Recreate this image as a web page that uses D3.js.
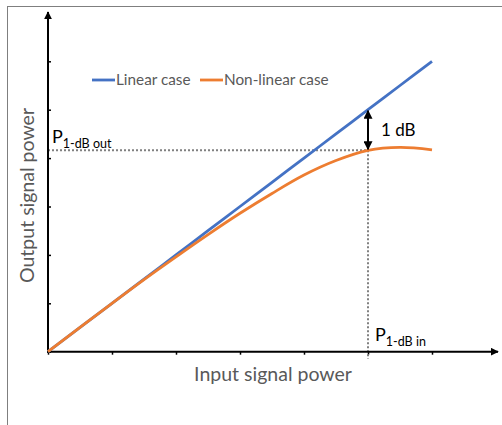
<!DOCTYPE html>
<html>
<head>
<meta charset="utf-8">
<script src="https://cdn.jsdelivr.net/npm/d3@7"></script>
<style>
  html, body { margin: 0; padding: 0; background: #fff; }
  svg { display: block; }
  text { font-family: "Lato", "Liberation Sans", Arial, sans-serif; }
</style>
</head>
<body>
<svg id="chart" width="502" height="425"></svg>
<script>
// Input power levels (arbitrary units)
const inputPower = [0, 1, 1.5, 2, 2.5, 3, 3.5, 4, 4.5, 5, 5.5, 6];
// Ideal amplifier: output follows input
const linearOutput = [0, 1, 1.5, 2, 2.5, 3, 3.5, 4, 4.5, 5, 5.5, 6];
// Real amplifier: output compresses and saturates
const nonLinearOutput = [0, 1, 1.49, 1.96, 2.42, 2.86, 3.27, 3.65, 3.95, 4.16, 4.22, 4.17];
const tickValues = [0, 1, 2, 3, 4, 5, 6];
const seriesNames = ["Linear case", "Non-linear case"];
const seriesColors = ["#4472C4", "#ED7D31"];
// 1-dB compression point input level
const p1dBIn = 5;

const svg = d3.select("#chart");
const x = d3.scaleLinear().domain([0, 6]).range([48, 432]);
const y = d3.scaleLinear().domain([0, 6]).range([351.7, 61.3]);

// outer frame
svg.append("rect")
  .attr("x", 7.5).attr("y", 6.5).attr("width", 520).attr("height", 440)
  .attr("fill", "none").attr("stroke", "#7f7f7f").attr("stroke-width", 1);

const defs = svg.append("defs");
defs.append("marker")
  .attr("id", "axisArrow").attr("viewBox", "0 0 10 10")
  .attr("refX", 9).attr("refY", 5)
  .attr("markerWidth", 4).attr("markerHeight", 4)
  .attr("orient", "auto")
  .append("path").attr("d", "M0,0 L10,5 L0,10 z").attr("fill", "#000");
defs.append("marker")
  .attr("id", "dbArrow").attr("viewBox", "0 0 10 10")
  .attr("refX", 9).attr("refY", 5)
  .attr("markerWidth", 4.5).attr("markerHeight", 4.5)
  .attr("orient", "auto-start-reverse")
  .append("path").attr("d", "M0,0 L10,5 L0,10 z").attr("fill", "#000");

// ticks via d3 axes
const xAxis = d3.axisBottom(x).tickValues(tickValues).tickFormat("").tickSize(3).tickSizeOuter(0);
const yAxis = d3.axisLeft(y).tickValues(tickValues).tickFormat("").tickSize(-3).tickSizeOuter(0);
const gx = svg.append("g").attr("transform", `translate(0,${y(0)})`).call(xAxis);
const gy = svg.append("g").attr("transform", `translate(${x(0)},0)`).call(yAxis);
[gx, gy].forEach(g => {
  g.select(".domain").remove();
  g.selectAll(".tick line").attr("stroke", "#000").attr("stroke-width", 1.5);
});

// dotted guides to the compression point
const pOutLevel = nonLinearOutput[inputPower.indexOf(p1dBIn)];
svg.append("line")
  .attr("x1", x(0)).attr("x2", x(p1dBIn))
  .attr("y1", y(pOutLevel)).attr("y2", y(pOutLevel))
  .attr("stroke", "#808080").attr("stroke-width", 2).attr("stroke-dasharray", "2,2");
svg.append("line")
  .attr("x1", x(p1dBIn)).attr("x2", x(p1dBIn))
  .attr("y1", y(pOutLevel)).attr("y2", y(0) + 7)
  .attr("stroke", "#808080").attr("stroke-width", 2).attr("stroke-dasharray", "2,2");

// axis lines with arrowheads
svg.append("line")
  .attr("x1", x(0)).attr("y1", y(0) + 1).attr("x2", x(0)).attr("y2", 12)
  .attr("stroke", "#000").attr("stroke-width", 2).attr("marker-end", "url(#axisArrow)");
svg.append("line")
  .attr("x1", x(0) - 1).attr("y1", y(0)).attr("x2", 498).attr("y2", y(0))
  .attr("stroke", "#000").attr("stroke-width", 2).attr("marker-end", "url(#axisArrow)");

// series
const line = d3.line().curve(d3.curveCatmullRom.alpha(0.5));
const series = [linearOutput, nonLinearOutput];
series.forEach((vals, i) => {
  svg.append("path")
    .attr("d", line(inputPower.map((v, k) => [x(v), y(vals[k])])))
    .attr("fill", "none").attr("stroke", seriesColors[i])
    .attr("stroke-width", 2.8).attr("stroke-linecap", "butt");
});

// 1 dB gap arrow
const linAtP = linearOutput[inputPower.indexOf(p1dBIn)];
svg.append("line")
  .attr("x1", x(p1dBIn)).attr("x2", x(p1dBIn))
  .attr("y1", y(linAtP) + 1).attr("y2", y(pOutLevel) - 1)
  .attr("stroke", "#000").attr("stroke-width", 2)
  .attr("marker-start", "url(#dbArrow)").attr("marker-end", "url(#dbArrow)");
svg.append("text")
  .attr("x", 381).attr("y", 136)
  .attr("font-size", 17).attr("fill", "#000")
  .text("1 dB");

// compression point labels
const pOut = svg.append("text").attr("x", 52).attr("y", 143).attr("fill", "#000");
pOut.append("tspan").attr("font-size", 18).text("P");
pOut.append("tspan").attr("font-size", 12.5).attr("dy", 5).text("1-dB out");
const pIn = svg.append("text").attr("x", 375).attr("y", 341).attr("fill", "#000");
pIn.append("tspan").attr("font-size", 18).text("P");
pIn.append("tspan").attr("font-size", 12.5).attr("dy", 5).text("1-dB in");

// legend
const legendX = [92, 200];
seriesNames.forEach((name, i) => {
  svg.append("line")
    .attr("x1", legendX[i]).attr("x2", legendX[i] + 23)
    .attr("y1", 80).attr("y2", 80)
    .attr("stroke", seriesColors[i]).attr("stroke-width", 2.8);
  svg.append("text")
    .attr("x", legendX[i] + 24).attr("y", 85)
    .attr("font-size", 15.3).attr("fill", "#595959")
    .text(name);
});

// axis titles
svg.append("text")
  .attr("x", 273).attr("y", 381)
  .attr("text-anchor", "middle").attr("font-size", 19.5).attr("fill", "#595959")
  .text("Input signal power");
svg.append("text")
  .attr("transform", "translate(34,195.5) rotate(-90)")
  .attr("text-anchor", "middle").attr("font-size", 19.5).attr("fill", "#595959")
  .text("Output signal power");
</script>
</body>
</html>
